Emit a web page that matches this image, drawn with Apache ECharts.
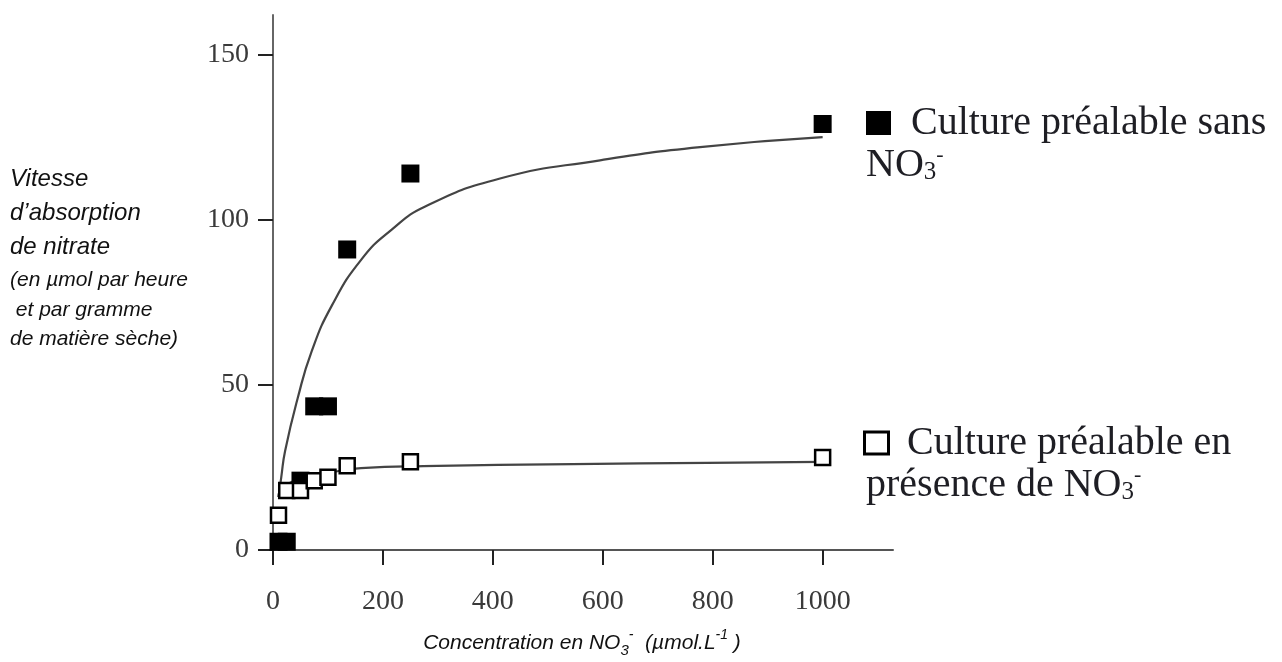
<!DOCTYPE html>
<html>
<head>
<meta charset="utf-8">
<script src="https://cdn.jsdelivr.net/npm/echarts@6/dist/echarts.min.js"></script>
<style>
html,body{margin:0;padding:0;background:#fff;}
#chart{width:1282px;height:662px;}
</style>
</head>
<body>
<div id="chart"></div>
<script>
// ---- data ----
const xTicks = [0, 200, 400, 600, 800, 1000];
const yTicks = [0, 50, 100, 150];

const xFilled = [10, 25, 50, 75, 100, 135, 250, 1000];
const yFilled = [2.5, 2.5, 21, 43.5, 43.5, 91, 114, 129];

const xOpen = [10, 25, 50, 75, 100, 135, 250, 1000];
const yOpen = [10.5, 18, 18, 21, 22, 25.5, 26.7, 28];

const xCurveFilled = [10, 15, 22, 45, 70, 107, 161, 216, 277, 413, 595, 777, 1000];
const yCurveFilled = [16, 22, 30, 46, 60, 74, 88, 97, 104, 112.5, 118, 122, 125];

const xCurveOpen = [10, 18, 61, 122, 160, 273, 546, 790, 1000];
const yCurveOpen = [16, 19, 22, 24, 24.8, 25.4, 26, 26.4, 26.7];

const yTitleLines = ['Vitesse', 'd\u2019absorption', 'de nitrate', '(en \u00b5mol par heure', ' et par gramme', 'de mati\u00e8re s\u00e8che)'];
const legendFilled = 'Culture pr\u00e9alable sans';
const legendOpen = 'Culture pr\u00e9alable en';
const legendOpen2 = 'pr\u00e9sence de ';

const zip = (xs, ys) => xs.map((x, i) => [x, ys[i]]);

const chart = echarts.init(document.getElementById('chart'));

const yTitleGraphics = yTitleLines.map((t, i) => ({
  type: 'text',
  x: 10,
  y: [179, 213, 247, 280, 310, 339][i],
  style: {
    text: t,
    fill: '#111',
    font: 'italic ' + (i < 3 ? 24 : 21) + 'px "Liberation Sans", Arial, sans-serif',
    verticalAlign: 'middle',
    align: 'left'
  }
}));

const legendRich = {
  t: { fontFamily: '"Liberation Serif", "Times New Roman", serif', fontSize: 40, lineHeight: 42, color: '#1e1e24' },
  sub: { fontFamily: '"Liberation Serif", serif', fontSize: 25, lineHeight: 24, padding: [14, 0, 0, 0], color: '#1e1e24' },
  sup: { fontFamily: '"Liberation Serif", serif', fontSize: 22, lineHeight: 22, verticalAlign: 'top', color: '#1e1e24' },
  fsq: { width: 25, height: 24, lineHeight: 24, backgroundColor: '#000' },
  osq: { width: 21, height: 19, lineHeight: 19, backgroundColor: '#fff', borderColor: '#000', borderWidth: 3 }
};

chart.setOption({
  animation: false,
  backgroundColor: '#fff',
  grid: { left: 273, top: 15, width: 620, height: 535, containLabel: false },
  xAxis: {
    type: 'value',
    min: 0,
    max: 1128,
    splitLine: { show: false },
    axisLine: { show: true, lineStyle: { color: '#555', width: 2 } },
    axisTick: { show: true, length: 15, customValues: xTicks, lineStyle: { color: '#222', width: 2 } },
    axisLabel: {
      customValues: xTicks,
      formatter: v => String(v),
      margin: 38,
      fontFamily: '"Liberation Serif", "Times New Roman", serif',
      fontSize: 28,
      color: '#3a3a3a'
    }
  },
  yAxis: {
    type: 'value',
    min: 0,
    max: 162,
    splitLine: { show: false },
    axisLine: { show: true, lineStyle: { color: '#666', width: 2 } },
    axisTick: { show: true, length: 15, customValues: yTicks, lineStyle: { color: '#222', width: 2 } },
    axisLabel: {
      customValues: yTicks,
      formatter: v => String(v),
      margin: 24,
      fontFamily: '"Liberation Serif", "Times New Roman", serif',
      fontSize: 28,
      color: '#3a3a3a'
    }
  },
  legend: [
    {
      data: ['filled'],
      left: 861, top: 103, padding: 0,
      icon: 'none', itemWidth: 0, itemHeight: 0, selectedMode: false,
      formatter: () => '{fsq| }{t|  ' + legendFilled + '}\n{t|NO}{sub|3}{sup|-}',
      textStyle: { rich: legendRich, padding: 0 }
    },
    {
      data: ['open'],
      left: 861, top: 423, padding: 0,
      icon: 'none', itemWidth: 0, itemHeight: 0, selectedMode: false,
      formatter: () => '{osq| }{t|  ' + legendOpen + '}\n{t|' + legendOpen2 + 'NO}{sub|3}{sup|-}',
      textStyle: { rich: legendRich, padding: 0 }
    }
  ],
  graphic: yTitleGraphics.concat([
    {
      type: 'text',
      x: 582,
      y: 643,
      style: {
        text: '{a|Concentration en NO}{sub|3}{sup|-}{a|  (\u00b5mol.L}{sup|-1}{a| )}',
        align: 'center',
        verticalAlign: 'middle',
        rich: {
          a: { font: 'italic 21px "Liberation Sans", Arial, sans-serif', fill: '#111', lineHeight: 30 },
          sub: { font: 'italic 15px "Liberation Sans", Arial, sans-serif', fill: '#111', lineHeight: 15, padding: [15, 0, 0, 0] },
          sup: { font: 'italic 14px "Liberation Sans", Arial, sans-serif', fill: '#111', lineHeight: 14, verticalAlign: 'top' }
        }
      }
    }
  ]),
  series: [
    {
      name: 'fitFilled', type: 'line', data: zip(xCurveFilled, yCurveFilled),
      smooth: 0.5, showSymbol: false, silent: true, z: 1,
      lineStyle: { color: '#444', width: 2.2 }
    },
    {
      name: 'fitOpen', type: 'line', data: zip(xCurveOpen, yCurveOpen),
      smooth: 0.5, showSymbol: false, silent: true, z: 1,
      lineStyle: { color: '#444', width: 2.2 }
    },
    {
      name: 'filled', type: 'scatter', data: zip(xFilled, yFilled),
      symbol: 'rect', symbolSize: 18, z: 2,
      itemStyle: { color: '#000', opacity: 1 }
    },
    {
      name: 'open', type: 'scatter', data: zip(xOpen, yOpen),
      symbol: 'rect', symbolSize: 15, z: 3,
      itemStyle: { color: '#fff', borderColor: '#000', borderWidth: 2.5, opacity: 1 }
    }
  ]
});
</script>
</body>
</html>
